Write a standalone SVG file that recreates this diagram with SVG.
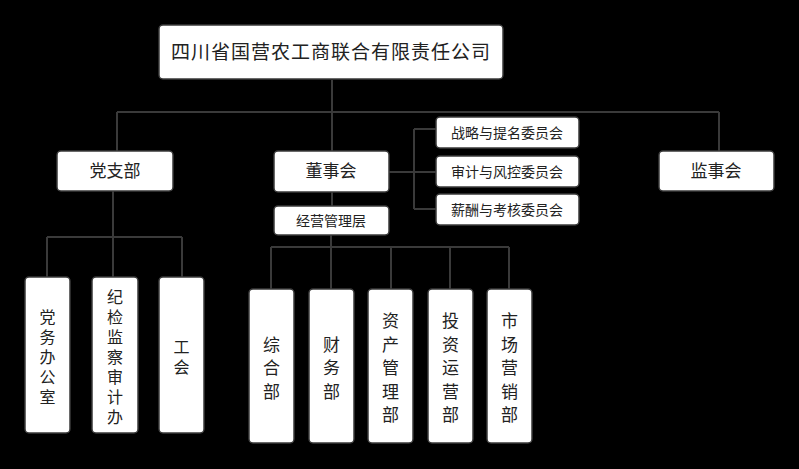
<svg xmlns="http://www.w3.org/2000/svg" width="799" height="469" viewBox="0 0 799 469">
<style>
.box{fill:#fff;stroke:#3a3a3a;stroke-width:1.5}
.ln{stroke:#3a3a3a;stroke-width:2;fill:none}
text{font-family:"Noto Sans CJK SC","Noto Sans",sans-serif;fill:#222;text-anchor:middle}
.t20{font-size:19px}
.t18{font-size:17px}
.t15{font-size:14px}
.v1{font-size:16px;writing-mode:vertical-rl;letter-spacing:4px}
.v2{font-size:17px;writing-mode:vertical-rl;letter-spacing:6.5px}
</style>
<rect x="0" y="0" width="799" height="469" fill="#000"/>
<g id="connectors">
<path class="ln" d="M332 80V112M117 112H719M117 112V151M332 112V151M719 112V151"/>
<path class="ln" d="M389 172H414M414 129V209M414 129H436M414 172H436M414 209H436"/>
<path class="ln" d="M332 192V206"/>
<path class="ln" d="M113 191V237M47 237H182M47 237V277M113 237V277M182 237V277"/>
<path class="ln" d="M331 235V247M271 247H509M271 247V289M331 247V289M391 247V289M450 247V289M509 247V289"/>
</g>
<g id="n-company"><rect class="box" x="159" y="25" width="344" height="54" rx="4"/><text class="t20" x="331" y="59" letter-spacing="1">四川省国营农工商联合有限责任公司</text></g>
<g id="n-party"><rect class="box" x="57" y="151" width="116" height="40" rx="4"/><text class="t18" x="115" y="177">党支部</text></g>
<g id="n-board"><rect class="box" x="274" y="151" width="115" height="41" rx="4"/><text class="t18" x="331" y="177">董事会</text></g>
<g id="n-mgmt"><rect class="box" x="274" y="206" width="115" height="29" rx="4"/><text class="t15" x="331" y="226">经营管理层</text></g>
<g id="n-c1"><rect class="box" x="436" y="117" width="143" height="31" rx="4"/><text class="t15" x="507" y="138">战略与提名委员会</text></g>
<g id="n-c2"><rect class="box" x="436" y="156" width="143" height="31" rx="4"/><text class="t15" x="507" y="177">审计与风控委员会</text></g>
<g id="n-c3"><rect class="box" x="436" y="194" width="143" height="31" rx="4"/><text class="t15" x="507" y="215">薪酬与考核委员会</text></g>
<g id="n-supervisor"><rect class="box" x="659" y="151" width="115" height="40" rx="4"/><text class="t18" x="716" y="177">监事会</text></g>
<g id="n-office"><rect class="box" x="25" y="277" width="45" height="156" rx="4"/><text class="v1" x="47.5" y="359">党务办公室</text></g>
<g id="n-discipline"><rect class="box" x="92" y="277" width="46" height="156" rx="4"/><text class="v1" x="115" y="359">纪检监察审计办</text></g>
<g id="n-union"><rect class="box" x="159" y="277" width="45" height="156" rx="4"/><text class="v1" x="181.5" y="359">工会</text></g>
<g id="n-general"><rect class="box" x="249" y="289" width="45" height="154" rx="4"/><text class="v2" x="271.5" y="371">综合部</text></g>
<g id="n-finance"><rect class="box" x="309" y="289" width="45" height="154" rx="4"/><text class="v2" x="331.5" y="371">财务部</text></g>
<g id="n-asset"><rect class="box" x="368" y="289" width="45" height="154" rx="4"/><text class="v2" x="390.5" y="371">资产管理部</text></g>
<g id="n-invest"><rect class="box" x="428" y="289" width="45" height="154" rx="4"/><text class="v2" x="450.5" y="371">投资运营部</text></g>
<g id="n-market"><rect class="box" x="487" y="289" width="45" height="154" rx="4"/><text class="v2" x="509.5" y="371">市场营销部</text></g>
</svg>
